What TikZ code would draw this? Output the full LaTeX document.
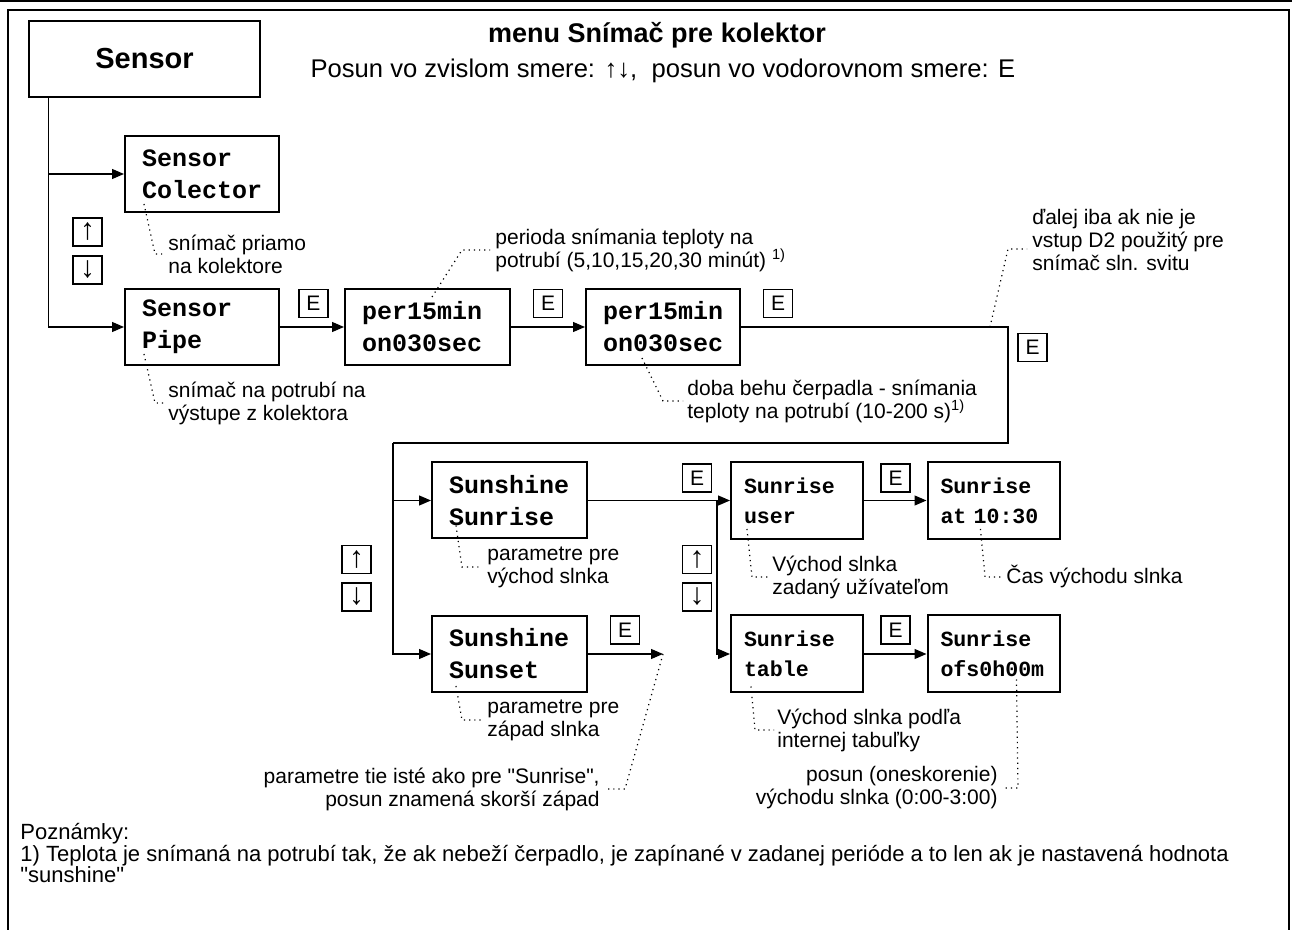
\documentclass[tikz,border=0pt]{standalone}
\usepackage{fontspec}
\setmainfont{Liberation Sans}
\setmonofont{Liberation Mono}
\usetikzlibrary{arrows.meta,positioning}
\newcommand{\qmark}{\textquotedbl}
\tikzset{
  x=0.5pt,y=-0.5pt,
  >={Triangle[length=6pt,width=5pt]},
  menubox/.style={draw,line width=1pt,minimum height=38pt,text width=#1,inner xsep=8.5pt,
    align=left,font=\ttfamily\bfseries\fontsize{12.5}{16}\selectfont},
  menubox/.default=60pt,
  smallbox/.style={draw,line width=1pt,minimum height=38.5pt,text width=#1,inner xsep=6.5pt,
    align=left,font=\ttfamily\bfseries\fontsize{10.8}{15}\selectfont},
  smallbox/.default=53pt,
  keybox/.style={draw,line width=0.7pt,minimum width=14.5pt,minimum height=14pt,inner sep=0pt,
    font=\fontsize{10.5}{12}\selectfont},
  arrowkey/.style={keybox,font=\fontsize{15}{15}\selectfont},
  note/.style={inner sep=0pt,align=left,font=\fontsize{10.5}{11.5}\selectfont},
  link/.style={line width=0.6pt},
  arr/.style={->,line width=0.6pt},
  leader/.style={dotted,line width=0.6pt},
}

\begin{document}
\begin{tikzpicture}
  \useasboundingbox (0,0) rectangle (1292,930);
  % frame
  \draw[line width=1.5pt] (0,1) -- (1292,1);
  \draw[line width=1pt] (8,930) -- (8,10) -- (1289,10) -- (1289,930);

  % heading
  \node[draw,line width=0.7pt,minimum width=115.5pt,minimum height=38pt,
    font=\bfseries\fontsize{14.5}{17}\selectfont] (sensor) at (144.5,59) {Sensor};
  \node[font=\bfseries\fontsize{13.5}{16}\selectfont] (title) at (657,35) {menu Snímač pre kolektor};
  \node[font=\fontsize{12.8}{15}\selectfont] (subtitle) at (663,71)
    {Posun vo zvislom smere: ↑↓,\ \ posun vo vodorovnom smere: E};

  % menu items
  \node[menubox] (colector) at (202,174) {Sensor\\Colector};
  \node[menubox] (pipe) at (202,327) {Sensor\\Pipe};
  \node[menubox=65.5pt] (per1) at (427.5,327) {per15min\\on030sec};
  \node[menubox] (per2) at (663,327) {per15min\\on030sec};
  \node[menubox=60.5pt] (sunrise) at (509.5,500.5) {Sunshine\\Sunrise};
  \node[menubox=60.5pt] (sunset) at (509.5,654) {Sunshine\\Sunset};
  \node[smallbox] (user) at (797,500.5) {Sunrise\\user};
  \node[smallbox] (at1030) at (993.5,500.5) {Sunrise\\at 10:30};
  \node[smallbox] (table) at (797,654) {Sunrise\\table};
  \node[smallbox] (ofs) at (993.5,654) {Sunrise\\ofs0h00m};

  % keys
  \foreach \n/\x/\y in {e1/313.5/303.5, e2/548/303.5, e3/778/303.5, e4/1032.5/347.5,
      e5/697/478, e6/895.5/478, e7/625/630, e8/895.5/630}
    \node[keybox] (\n) at (\x,\y) {E};
  \foreach \n/\x/\y/\t in {up1/87.5/232/↑, dn1/87.5/270/↓, up2/356.5/559.5/↑, dn2/356.5/597/↓,
      up3/697/559.5/↑, dn3/697/597/↓}
    \node[arrowkey] (\n) at (\x,\y) {\t};

  % connectors
  \coordinate (turn) at (1008,327);
  \coordinate (split) at (393,443);
  \coordinate (fork) at (717,500.5);
  \coordinate (setend) at (663,654);
  \draw[arr] ([xshift=10pt]sensor.south west) |- (colector.west);
  \draw[arr] ([xshift=10pt]sensor.south west) |- (pipe.west);
  \draw[arr] (pipe.east) -- (per1.west);
  \draw[arr] (per1.east) -- (per2.west);
  \draw[link] (per2.east) -- (turn) |- (split);
  \draw[arr] (split) |- (sunrise.west);
  \draw[arr] (split) |- (sunset.west);
  \draw[arr] (sunrise.east) -- (user.west);
  \draw[arr] (fork) |- (table.west);
  \draw[arr] (user.east) -- (at1030.west);
  \draw[arr] (table.east) -- (ofs.west);
  \draw[arr] (sunset.east) -- (setend);

  % annotations
  \node[note,anchor=west] (ncol) at (168,254) {snímač priamo\\na kolektore};
  \node[note,anchor=west] (npipe) at (168,403) {snímač na potrubí na\\výstupe z kolektora};
  \node[note,anchor=west] (nper1) at (495,250) {perioda snímania teploty na\\potrubí (5,10,15,20,30 minút) \textsuperscript{1)}};
  \node[note,anchor=west] (nper2) at (687,401) {doba behu čerpadla - snímania\\teploty na potrubí (10-200 s)\textsuperscript{1)}};
  \node[note,anchor=west] (nturn) at (1032,240) {ďalej iba ak nie je\\vstup D2 použitý pre\\snímač sln. svitu};
  \node[note,anchor=west] (nrise) at (487,567) {parametre pre\\východ slnka};
  \node[note,anchor=west] (nset) at (487,720) {parametre pre\\západ slnka};
  \node[note,anchor=east,align=right] (nsetend) at (600,789) {parametre tie isté ako pre \qmark Sunrise\qmark,\\posun znamená skorší západ};
  \node[note,anchor=west] (nuser) at (772,577) {Východ slnka\\zadaný užívateľom};
  \node[note,anchor=west] (nat) at (1006,577) {Čas východu slnka};
  \node[note,anchor=west] (ntable) at (777,730) {Východ slnka podľa\\internej tabuľky};
  \node[note,anchor=east,align=right] (nofs) at (998,788) {posun (oneskorenie)\\východu slnka (0:00-3:00)};

  % leaders
  \draw[leader] ([xshift=10pt,yshift=4.5pt]colector.south west) -- ([xshift=-6.5pt]ncol.west) -- ([xshift=-2.5pt]ncol.west);
  \draw[leader] ([xshift=10pt,yshift=6pt]pipe.south west) -- ([xshift=-6.5pt]npipe.west) -- ([xshift=-2.5pt]npipe.west);
  \draw[leader] ([xshift=44pt,yshift=-4.5pt]per1.north west) -- ([xshift=-16.5pt]nper1.west) -- ([xshift=-2.5pt]nper1.west);
  \draw[leader] ([xshift=28.5pt,yshift=4pt]per2.south west) -- ([xshift=-12pt]nper2.west) -- ([xshift=-2pt]nper2.west);
  \draw[leader] ([xshift=-9pt]turn) -- ([xshift=-12pt,yshift=-4.5pt]nturn.west) -- ([xshift=-2.5pt,yshift=-4.5pt]nturn.west);
  \draw[leader] ([xshift=12.5pt,yshift=7pt]sunrise.south west) -- ([xshift=-12.5pt]nrise.west) -- ([xshift=-2.5pt]nrise.west);
  \draw[leader] ([xshift=12.5pt,yshift=3.5pt]sunset.south west) -- ([xshift=-12.5pt]nset.west) -- ([xshift=-2.5pt]nset.west);
  \draw[leader] (setend) -- ([xshift=12.5pt]nsetend.east) -- ([xshift=3.5pt]nsetend.east);
  \draw[leader] ([xshift=8.5pt,yshift=5.5pt]user.south west) -- ([xshift=-10pt]nuser.west) -- ([xshift=-2pt]nuser.west);
  \draw[leader] ([xshift=27pt,yshift=5.5pt]at1030.south west) -- ([xshift=-10.5pt]nat.west) -- ([xshift=-1.5pt]nat.west);
  \draw[leader] ([xshift=10.5pt,yshift=3.5pt]table.south west) -- ([xshift=-11pt]ntable.west) -- ([xshift=-1.5pt]ntable.west);
  \draw[leader] ([xshift=45pt,yshift=7pt]ofs.south west) -- ([xshift=10pt]nofs.east) -- ([xshift=2.5pt]nofs.east);

  % notes
  \node[note,anchor=north west,font=\fontsize{11}{10.8}\selectfont] (remarks) at (20,823)
    {Poznámky:\\1) Teplota je snímaná na potrubí tak, že ak nebeží čerpadlo, je zapínané v zadanej perióde a to len ak je nastavená hodnota\\\qmark sunshine\qmark};
\end{tikzpicture}
\end{document}
